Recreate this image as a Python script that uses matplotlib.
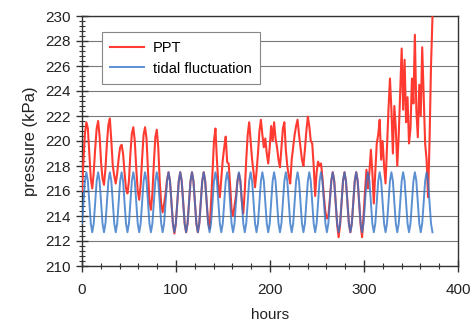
import matplotlib
matplotlib.use("Agg")
import matplotlib.pyplot as plt
from matplotlib.ticker import MultipleLocator
import numpy as np

plt.rcParams['font.family'] = ['Liberation Sans', 'DejaVu Sans']

# sampling interval of both series (hours)
dt_hours = 1.56

# tidal fluctuation (kPa)
tidal_kpa = [
    213.4, 215.1, 216.8, 217.5, 216.8, 215.1, 213.4, 212.7,
    213.4, 215.1, 216.8, 217.5, 216.8, 215.1, 213.4, 212.7,
    213.4, 215.1, 216.8, 217.5, 216.8, 215.1, 213.4, 212.7,
    213.4, 215.1, 216.8, 217.5, 216.8, 215.1, 213.4, 212.7,
    213.4, 215.1, 216.8, 217.5, 216.8, 215.1, 213.4, 212.7,
    213.4, 215.1, 216.8, 217.5, 216.8, 215.1, 213.4, 212.7,
    213.4, 215.1, 216.8, 217.5, 216.8, 215.1, 213.4, 212.7,
    213.4, 215.1, 216.8, 217.5, 216.8, 215.1, 213.4, 212.7,
    213.4, 215.1, 216.8, 217.5, 216.8, 215.1, 213.4, 212.7,
    213.4, 215.1, 216.8, 217.5, 216.8, 215.1, 213.4, 212.7,
    213.4, 215.1, 216.8, 217.5, 216.8, 215.1, 213.4, 212.7,
    213.4, 215.1, 216.8, 217.5, 216.8, 215.1, 213.4, 212.7,
    213.4, 215.1, 216.8, 217.5, 216.8, 215.1, 213.4, 212.7,
    213.4, 215.1, 216.8, 217.5, 216.8, 215.1, 213.4, 212.7,
    213.4, 215.1, 216.8, 217.5, 216.8, 215.1, 213.4, 212.7,
    213.4, 215.1, 216.8, 217.5, 216.8, 215.1, 213.4, 212.7,
    213.4, 215.1, 216.8, 217.5, 216.8, 215.1, 213.4, 212.7,
    213.4, 215.1, 216.8, 217.5, 216.8, 215.1, 213.4, 212.7,
    213.4, 215.1, 216.8, 217.5, 216.8, 215.1, 213.4, 212.7,
    213.4, 215.1, 216.8, 217.5, 216.8, 215.1, 213.4, 212.7,
    213.4, 215.1, 216.8, 217.5, 216.8, 215.1, 213.4, 212.7,
    213.4, 215.1, 216.8, 217.5, 216.8, 215.1, 213.4, 212.7,
    213.4, 215.1, 216.8, 217.5, 216.8, 215.1, 213.4, 212.7,
    213.4, 215.1, 216.8, 217.5, 216.8, 215.1, 213.4, 212.7,
    213.4, 215.1, 216.8, 217.5, 216.8, 215.1, 213.4, 212.7,
    213.4, 215.1, 216.8, 217.5, 216.8, 215.1, 213.4, 212.7,
    213.4, 215.1, 216.8, 217.5, 216.8, 215.1, 213.4, 212.7,
    213.4, 215.1, 216.8, 217.5, 216.8, 215.1, 213.4, 212.7,
    213.4, 215.1, 216.8, 217.5, 216.8, 215.1, 213.4, 212.7,
    213.4, 215.1, 216.8, 217.5, 216.8, 215.1, 213.4, 212.7,
]

# PPT pore pressure (kPa)
ppt_kpa = [
    216.0, 218.5, 220.6, 221.5, 221.0, 219.0, 217.0, 216.2,
    217.5, 219.4, 221.0, 221.6, 220.4, 218.3, 217.0, 216.5,
    217.8, 219.8, 221.3, 221.8, 220.0, 218.0, 217.2, 216.6,
    217.4, 218.6, 219.5, 219.7, 219.0, 217.5, 216.2, 215.8,
    216.8, 219.0, 220.6, 221.1, 220.0, 217.8, 216.0, 215.3,
    216.5, 218.6, 220.5, 221.1, 220.2, 217.6, 215.2, 214.5,
    215.8, 218.2, 220.3, 220.9, 219.5, 216.8, 215.0, 214.3,
    215.0, 215.8, 216.9, 217.5, 216.8, 215.1, 213.4, 212.6,
    213.4, 215.1, 216.8, 217.5, 216.8, 215.1, 213.4, 212.7,
    213.4, 215.1, 216.8, 217.5, 216.8, 215.1, 213.4, 212.7,
    213.4, 215.1, 216.8, 217.5, 216.8, 215.1, 213.5, 213.0,
    215.0, 217.5, 220.0, 221.0, 218.5, 216.5, 215.5, 217.0,
    218.5, 219.5, 220.35, 218.3, 218.2, 216.5, 214.5, 214.0,
    214.8, 215.6, 216.8, 217.4, 216.8, 215.2, 214.2, 216.0,
    218.5, 220.5, 221.5, 220.0, 218.5, 217.5, 216.3, 217.5,
    219.0, 220.8, 221.7, 220.5, 219.5, 220.2, 219.0, 218.2,
    219.5, 221.2, 220.0, 221.5, 220.2, 219.5, 218.5, 217.9,
    219.5, 221.0, 221.5, 219.3, 218.0, 217.2, 216.6, 218.5,
    219.5, 220.5, 221.2, 221.7, 220.5, 219.5, 218.5, 218.0,
    219.3, 220.8, 221.95, 221.2, 220.0, 219.8, 218.0, 215.6,
    217.5, 218.35, 218.0, 218.2, 217.0, 215.5, 214.3, 213.8,
    214.0, 215.3, 216.8, 217.5, 216.8, 215.1, 213.3, 212.3,
    213.3, 215.1, 216.8, 217.5, 216.8, 215.1, 213.4, 212.7,
    213.4, 215.1, 216.8, 217.5, 216.8, 215.1, 213.3, 212.3,
    214.0, 216.0, 217.7, 216.2, 217.5, 219.3, 217.5, 215.0,
    217.5, 219.8, 220.5, 221.7, 218.5, 220.0, 218.0, 216.6,
    219.5, 222.5, 225.0, 222.5, 219.0, 222.8, 221.0, 218.0,
    220.5, 224.0, 227.4, 222.5, 226.5, 221.5, 223.5, 219.8,
    221.0, 225.0, 223.0, 228.5, 222.5, 220.3, 224.5, 222.0,
    227.5, 223.5, 219.8, 218.5, 215.5, 220.0, 226.0, 229.9,
]

series_labels = ["PPT", "tidal fluctuation"]
x_label = "hours"
y_label = "pressure (kPa)"

hours = np.arange(len(tidal_kpa)) * dt_hours

fig = plt.figure(figsize=(4.76, 3.21), dpi=100)
ax = fig.add_axes([82 / 476, (321 - 266) / 321, 376 / 476, 250 / 321])

ax.plot(hours, ppt_kpa, color="#ff3a30", lw=1.5, label=series_labels[0], zorder=3)
ax.plot(hours, tidal_kpa, color="#3274c8", lw=1.4, alpha=0.8,
        label=series_labels[1], zorder=4)

ax.set_xlim(0, 400)
ax.set_ylim(210, 230)
ax.xaxis.set_major_locator(MultipleLocator(100))
ax.xaxis.set_minor_locator(MultipleLocator(20))
ax.yaxis.set_major_locator(MultipleLocator(2))
ax.yaxis.set_minor_locator(MultipleLocator(0.4))

ax.yaxis.grid(True, which="major", color="#7a7a7a", lw=0.8)
ax.set_axisbelow(True)

for s in ax.spines.values():
    s.set_color("#333333")
    s.set_linewidth(1.0)

ax.tick_params(which="major", direction="inout", length=8, width=1.0,
               color="#333333", labelsize=11, labelcolor="#222222", pad=4)
ax.tick_params(which="minor", direction="inout", length=4, width=0.8,
               color="#333333")
ax.tick_params(axis="x", pad=8)

ax.set_xlabel(x_label, fontsize=11, color="#222222", labelpad=8)
ax.set_ylabel(y_label, fontsize=12, color="#222222", labelpad=5)

leg = ax.legend(loc="upper left", bbox_to_anchor=(0.052, 0.935),
                borderaxespad=0, fontsize=10.5, frameon=True, fancybox=False,
                handlelength=2.3, handletextpad=0.6, borderpad=0.6,
                labelspacing=0.45)
leg.get_frame().set_edgecolor("#888888")
leg.get_frame().set_linewidth(0.8)
leg.get_frame().set_alpha(1.0)

fig.savefig("out.png", dpi=100, facecolor="white")
